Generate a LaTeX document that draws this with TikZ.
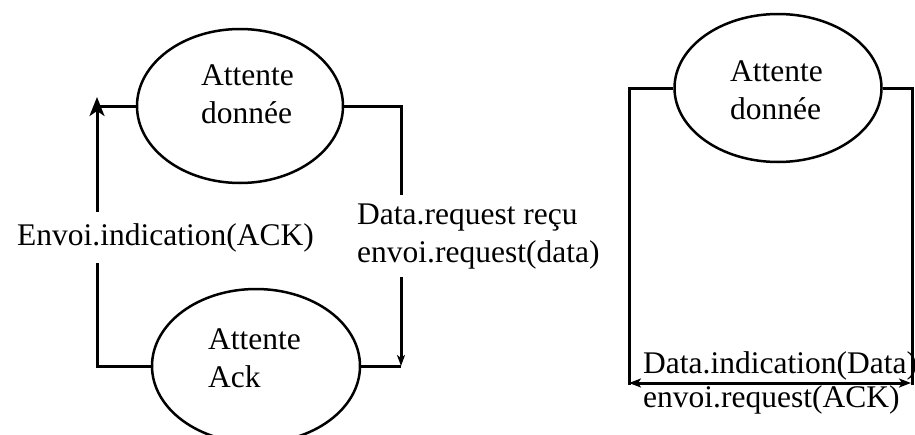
\documentclass[tikz,border=0pt]{standalone}
\usepackage{fontspec}
\setmainfont{Liberation Serif}
\usetikzlibrary{arrows.meta,shapes.geometric}
\begin{document}
\begin{tikzpicture}[x=1pt,y=-1pt,
  state/.style={draw,ellipse,line width=2.5pt,inner sep=0pt},
  txt/.style={font={\fontsize{31.5}{38}\selectfont},inner sep=0pt,align=left,anchor=base west},
  wire/.style={line width=3pt},
  bighead/.style={wire,-{Stealth[length=19pt,width=15pt,inset=5pt]}},
  smallhead/.style={wire,-{Stealth[length=11pt,width=8pt,inset=3pt]}},
  twohead/.style={wire,{Stealth[length=12pt,width=9pt,inset=3pt]}-{Stealth[length=12pt,width=9pt,inset=3pt]}},
  cover/.style={txt,fill=white,inner ysep=11pt,inner xsep=2pt}]
\useasboundingbox (0,0) rectangle (915,434);
\clip (0,0) rectangle (915,434);

% left machine: two states
\node[state,minimum width=206pt,minimum height=154pt] (d1) at (240,106) {};
\node[state,minimum width=208pt,minimum height=154pt] (a1) at (256,366) {};
% the base anchor of a two-line text sits on its second line
\node[txt] (t1) at (201,123) {Attente\\donnée};
\node[txt] (t2) at (208,387) {Attente\\Ack};

\coordinate (cl) at (97,97);
\coordinate (cr) at (401,0);
\draw[bighead] (a1.west) -| (cl);
\draw[wire] (d1.west) -- (d1.west -| cl);
\draw[smallhead] (d1.east) -| (a1.east -| cr);
\draw[wire] (a1.east) -- (a1.east -| cr);

\node[cover] (l1) at (15,245) {Envoi.indication(ACK)};
\node[cover,inner ysep=8pt] (l2) at (355,262) {Data.request reçu\\envoi.request(data)};

% right machine: single state
\node[state,minimum width=207pt,minimum height=148pt] (d2) at (778,88) {};
\node[txt] (t3) at (730,119) {Attente\\donnée};

\coordinate (bl) at (629,385);
\coordinate (br) at (912,385);
\coordinate (al) at (629,383);
\coordinate (ar) at (911,383);
\draw[wire] (d2.west) -| (bl);
\draw[wire] (d2.east) -| (br);
\draw[twohead] (al) -- (ar);

\node[txt] (l3) at (643,373) {Data.indication(Data)};
\node[txt] (l4) at (643,407) {envoi.request(ACK)};
\end{tikzpicture}
\end{document}
